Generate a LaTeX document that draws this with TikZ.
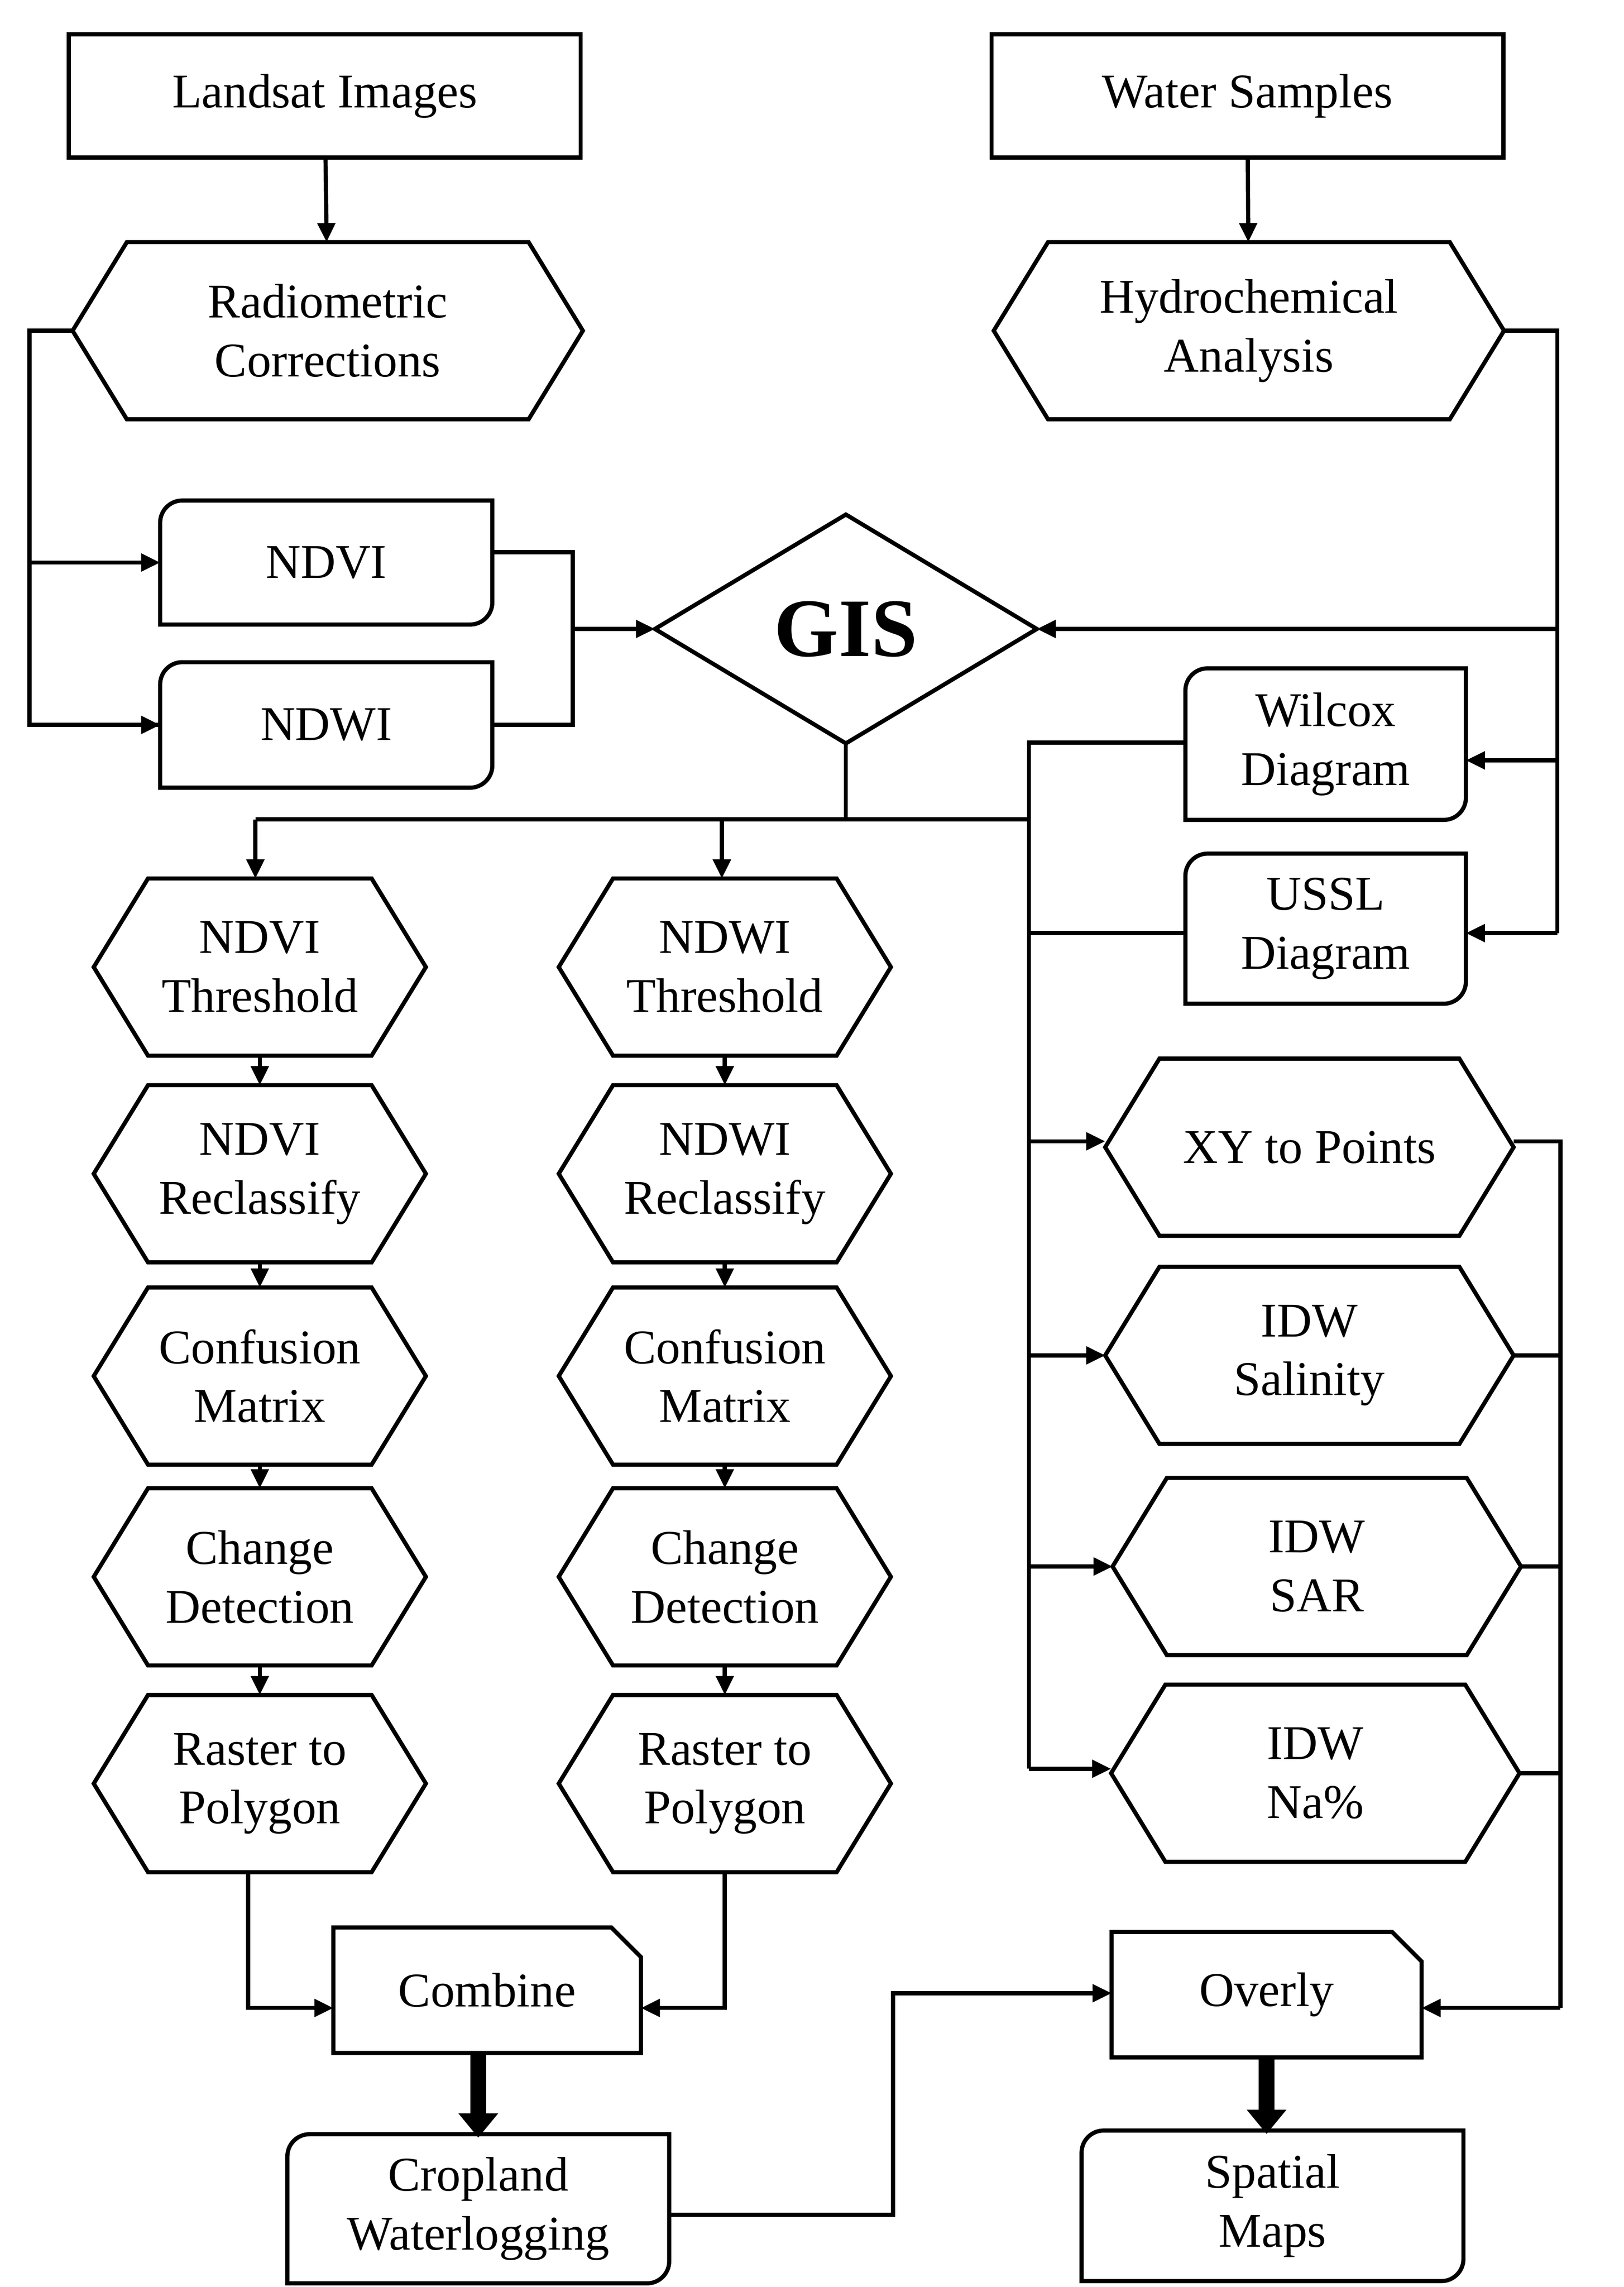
\documentclass[tikz,border=0pt]{standalone}
\usepackage{fontspec}
\setmainfont{Liberation Serif}
\usetikzlibrary{shapes.symbols,shapes.misc,shapes.geometric,arrows.meta}
\begin{document}
\begin{tikzpicture}[x=0.03cm,y=-0.03cm,line width=2.4pt,
  every node/.style={font=\fontsize{28}{34}\selectfont,align=center,inner sep=0pt,outer sep=0pt},
  box/.style={draw,rectangle,minimum width=10.4cm,minimum height=2.5cm},
  hex/.style={draw,signal,signal to=west and east,signal pointer angle=117,minimum width=6.75cm,minimum height=3.6cm},
  hexw/.style={hex,minimum width=8.3cm},
  hexb/.style={hex,minimum width=10.37cm},
  note/.style={draw,chamfered rectangle,chamfered rectangle corners=north east,chamfered rectangle xsep=0.3cm,chamfered rectangle ysep=0.3cm,minimum height=2.55cm},
  arr/.style={-{Triangle[length=11pt,width=10pt]}},
  thk/.style={line width=9pt,-{Triangle[length=14pt,width=22pt]},shorten >=-2pt}]
\useasboundingbox (0,0) rectangle (1100,1549);
\newcommand{\rbx}[1]{\draw ([yshift=-0.45cm]#1.north west) arc[start angle=180,end angle=90,radius=0.45cm] -- (#1.north east) -- ([yshift=0.45cm]#1.south east) arc[start angle=0,end angle=-90,radius=0.45cm] -- (#1.south west) -- cycle;}
% top
\node[box] (land) at (220,65) {Landsat Images};
\node[box] (water) at (845,65) {Water Samples};
\node[hexb] (radio) at (222,224) {Radiometric\\Corrections};
\node[hexb] (hydro) at (846,224) {Hydrochemical\\Analysis};
\node[minimum width=6.75cm,minimum height=2.52cm] (ndvi) at (221,381) {NDVI}; \rbx{ndvi}
\node[minimum width=6.75cm,minimum height=2.55cm] (ndwi) at (221,491) {NDWI}; \rbx{ndwi}
\node[draw,diamond,aspect=1.66,minimum width=7.76cm,minimum height=4.65cm] (gis) at (573,426) {\fontsize{48}{52}\selectfont\bfseries GIS};
\node[minimum width=5.7cm,minimum height=3.08cm] (wil) at (898,504) {Wilcox\\Diagram}; \rbx{wil}
\node[minimum width=5.7cm,minimum height=3.05cm] (ussl) at (898,629) {USSL\\Diagram}; \rbx{ussl}
% left column
\node[hex] (La) at (176,655) {NDVI\\Threshold};
\node[hex] (Lb) at (176,795) {NDVI\\Reclassify};
\node[hex] (Lc) at (176,932) {Confusion\\Matrix};
\node[hex] (Ld) at (176,1068) {Change\\Detection};
\node[hex] (Le) at (176,1208) {Raster to\\Polygon};
% middle column
\node[hex] (Ma) at (491,655) {NDWI\\Threshold};
\node[hex] (Mb) at (491,795) {NDWI\\Reclassify};
\node[hex] (Mc) at (491,932) {Confusion\\Matrix};
\node[hex] (Md) at (491,1068) {Change\\Detection};
\node[hex] (Me) at (491,1208) {Raster to\\Polygon};
% right column
\node[hexw] (xy) at (887,777) {XY to Points};
\node[hexw] (sal) at (887,918) {IDW\\Salinity};
\node[hexw] (sar) at (892,1061) {IDW\\SAR};
\node[hexw] (na) at (891,1201) {IDW\\Na\%};
% bottom
\node[note,minimum width=6.25cm] (comb) at (330,1348) {Combine};
\node[note,minimum width=6.3cm] (ov) at (858,1351) {Overly};
\node[minimum width=7.76cm,minimum height=3.03cm] (crop) at (324,1496) {Cropland\\Waterlogging}; \rbx{crop}
\node[minimum width=7.76cm,minimum height=3.06cm] (spat) at (862,1494) {Spatial\\Maps}; \rbx{spat}
% coordinates
\coordinate (jr) at (20,224);
\coordinate (jm) at (388,426);
\coordinate (jh) at (1055,224);
\coordinate (jg) at (573,555);
\coordinate (jv) at (697,503);
\coordinate (jo) at (1057,773);
% connectors
\draw[arr] (land) -- (radio);
\draw[arr] (water) -- (hydro);
\draw (radio.west) -- (jr) |- (ndwi.west);
\draw[arr] (jr |- ndvi.west) -- (ndvi.west);
\draw[arr] (jr |- ndwi.west) -- (ndwi.west);
\draw (ndvi.east |- 0,374) -| (jm |- 0,491) -- (ndwi.east |- 0,491);
\draw[arr] (jm) -- (gis.west);
\draw (hydro.east) -- (jh) -- (jh |- 0,632);
\draw[arr] (jh |- gis.east) -- (gis.east);
\draw[arr] (jh |- 0,515) -- (wil.east |- 0,515);
\draw[arr] (jh |- 0,632) -- (ussl.east |- 0,632);
\draw (gis.south) -- (jg);
\draw (173,555) -- (jv |- jg);
\draw[arr] (173,555) -- (La.north -| 173,0);
\draw[arr] (489,555) -- (Ma.north -| 489,0);
\draw (wil.west |- jv) -- (jv) -- (jv |- 0,1198);
\draw (ussl.west |- 0,632) -- (jv |- 0,632);
\draw[arr] (jv |- 0,773) -- (xy.west |- 0,773);
\draw[arr] (jv |- sal.west) -- (sal.west);
\draw[arr] (jv |- sar.west) -- (sar.west);
\draw[arr] (jv |- 0,1198) -- (na.west |- 0,1198);
\foreach \a/\b in {a/b,b/c,c/d,d/e}{
  \draw[arr] (L\a.south) -- (L\b.north);
  \draw[arr] (M\a.south) -- (M\b.north);
}
\draw[arr] (Le.south -| 168,0) |- (comb.west |- 0,1360);
\draw[arr] (Me.south) |- (comb.east |- 0,1360);
\draw (xy.east |- 0,773) -- (jo) -- (jo |- 0,1360);
\draw (sal.east) -- (jo |- sal.east);
\draw (sar.east) -- (jo |- sar.east);
\draw (na.east) -- (jo |- na.east);
\draw[arr] (jo |- 0,1360) -- (ov.east |- 0,1360);
\draw[thk] (comb.south -| crop.north) -- (crop.north);
\draw[thk] (ov.south) -- (ov.south |- spat.north);
\draw[arr] (crop.east |- 0,1500) -- (605,1500) |- (ov.west |- 0,1350);
\end{tikzpicture}
\end{document}
